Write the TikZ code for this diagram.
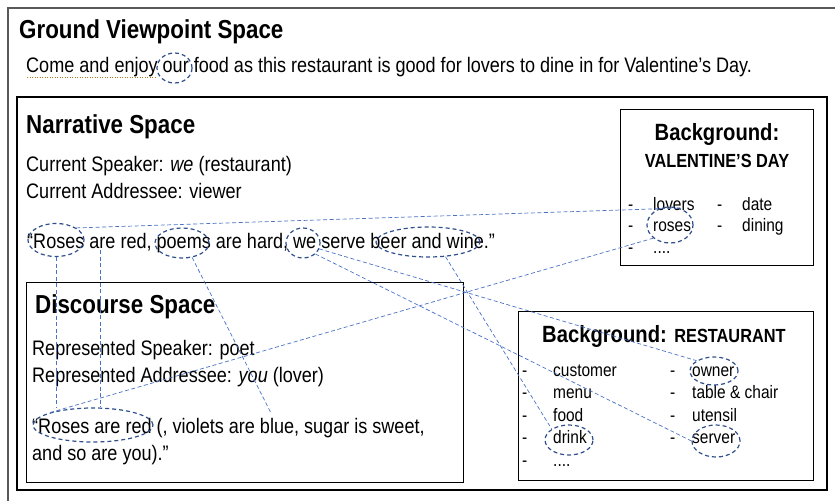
\documentclass[tikz,border=0pt]{standalone}
\usepackage{fontspec}
\setmainfont{Liberation Sans}[FakeStretch=0.86]
\usetikzlibrary{shapes.geometric}
\definecolor{ringblue}{HTML}{2F4E8C}
\definecolor{linkblue}{HTML}{4A72C4}
\definecolor{squiggle}{HTML}{B07A1E}

\begin{document}
\begin{tikzpicture}[x=1pt,y=-1pt]
\useasboundingbox (0,0) rectangle (835,501);
%%%%%%%%%%%%%%%%%%%%%%%%%%%%%%%%%%%%%%%%%%%%%%%%%%%%%%%%%%%%%%
%styles
\tikzstyle{spacetitle}=[anchor=base west,inner sep=0pt,font=\fontsize{26}{30}\selectfont\bfseries]
\tikzstyle{textline}=[anchor=base west,inner sep=0pt,font=\fontsize{21}{25}\selectfont]
\tikzstyle{bghead}=[anchor=base,inner sep=0pt,font=\fontsize{23.5}{27}\selectfont\bfseries]
\tikzstyle{bgcaps}=[anchor=base,inner sep=0pt,font=\fontsize{19}{22}\selectfont\bfseries]
\tikzstyle{listitem}=[anchor=base west,inner sep=0pt,font=\fontsize{18}{21}\selectfont]
\tikzstyle{wordring}=[ellipse,draw=ringblue,line width=1.2pt,dash pattern=on 4pt off 3pt,inner sep=0pt]
\tikzstyle{link}=[draw=linkblue,line width=0.7pt,dash pattern=on 4pt off 2.5pt]

%%%%%%%%%%%%%%%%%%%%%%%%%%%%%%%%%%%%%%%%%%%%%%%%%%%%%%%%%%%%%%
%BOXES
\draw[line width=1.5pt,color=black!65] (835,8) -- (8,8) -- (8,501);
\draw[line width=1.1pt] (17,97) rectangle (827,490);
\draw[line width=1pt] (26,282) rectangle (463,482);
\draw[line width=1pt] (620,109) rectangle (813,265);
\draw[line width=1pt] (518,311) rectangle (813,480);

%%%%%%%%%%%%%%%%%%%%%%%%%%%%%%%%%%%%%%%%%%%%%%%%%%%%%%%%%%%%%%
%ground
\node[spacetitle] (groundtitle) at (19,38) {Ground Viewpoint Space};
\node[textline] (groundtext) at (26,72) {Come and enjoy our food as this restaurant is good for lovers to dine in for Valentine’s Day.};
\draw[squiggle,line width=1.4pt,dash pattern=on 1.2pt off 1.3pt] (27,77.5) -- (155,77.5);

%narrative
\node[spacetitle] (narrtitle) at (26,133) {Narrative Space};
\node[textline] (speakerN) at (26,171) {Current Speaker: \textit{we} (restaurant)};
\node[textline] (addresseeN) at (26,198) {Current Addressee: viewer};
\node[textline] (poemN) at (27,248) {“Roses are red, poems are hard, we serve beer and wine.”};

%discourse
\node[spacetitle] (disctitle) at (35,313) {Discourse Space};
\node[textline] (speakerD) at (32,355) {Represented Speaker: poet};
\node[textline] (addresseeD) at (32,382) {Represented Addressee: \textit{you} (lover)};
\node[textline] (poemD1) at (32,433) {“Roses are red (, violets are blue, sugar is sweet,};
\node[textline] (poemD2) at (32,460) {and so are you).”};

%background valentine
\node[bghead] (valtitle) at (717,140) {Background:};
\node[bgcaps] (valcaps) at (717,167) {VALENTINE’S DAY};
\node[listitem] (dashV1) at (628,210) {-};
\node[listitem] (lovers) at (653,210) {lovers};
\node[listitem] (dashV2) at (717,210) {-};
\node[listitem] (date) at (742,210) {date};
\node[listitem] (dashV3) at (628,231) {-};
\node[listitem] (roses) at (653,231) {roses};
\node[listitem] (dashV4) at (717,231) {-};
\node[listitem] (dining) at (742,231) {dining};
\node[listitem] (dashV5) at (628,253) {-};
\node[listitem] (moreV) at (653,253) {....};

%background restaurant
\node[anchor=base west,inner sep=0pt] (resttitle) at (542,342) {\fontsize{23.5}{27}\selectfont\bfseries Background: \fontsize{19}{22}\selectfont RESTAURANT};
\node[listitem] (dashR1) at (522,376) {-};
\node[listitem] (customer) at (553,376) {customer};
\node[listitem] (dashR2) at (522,398.5) {-};
\node[listitem] (menu) at (553,398.5) {menu};
\node[listitem] (dashR3) at (522,421) {-};
\node[listitem] (food) at (553,421) {food};
\node[listitem] (dashR4) at (522,443.5) {-};
\node[listitem] (drink) at (553,443.5) {drink};
\node[listitem] (dashR5) at (522,466) {-};
\node[listitem] (moreR) at (553,466) {....};
\node[listitem] (dashR6) at (670,376) {-};
\node[listitem] (owner) at (692,376) {owner};
\node[listitem] (dashR7) at (670,398.5) {-};
\node[listitem] (tablechair) at (692,398.5) {table \& chair};
\node[listitem] (dashR8) at (670,421) {-};
\node[listitem] (utensil) at (692,421) {utensil};
\node[listitem] (dashR9) at (670,443.5) {-};
\node[listitem] (server) at (692,443.5) {server};

%%%%%%%%%%%%%%%%%%%%%%%%%%%%%%%%%%%%%%%%%%%%%%%%%%%%%%%%%%%%%%
%rings
\node[wordring,minimum width=35pt,minimum height=30pt] (ourring) at (174.5,68) {};
\node[wordring,minimum width=56pt,minimum height=33pt] (RosesN) at (56,240) {};
\node[wordring,minimum width=54pt,minimum height=30pt] (poemsN) at (182,243) {};
\node[wordring,minimum width=34pt,minimum height=30pt] (weN) at (303,243) {};
\node[wordring,minimum width=104pt,minimum height=30pt] (beerN) at (428,242) {};
\node[wordring,minimum width=46pt,minimum height=36pt] (rosesV) at (670,225) {};
\node[wordring,minimum width=120pt,minimum height=34pt] (RosesD) at (93,425) {};
\node[wordring,minimum width=48pt,minimum height=28pt] (ownerring) at (714,371) {};
\node[wordring,minimum width=48pt,minimum height=30pt] (drinkring) at (569,440) {};
\node[wordring,minimum width=48pt,minimum height=32pt] (serverring) at (716,441) {};

%free ends
\coordinate (areN) at (100,250);
\coordinate (blueD) at (271,413);

%%%%%%%%%%%%%%%%%%%%%%%%%%%%%%%%%%%%%%%%%%%%%%%%%%%%%%%%%%%%%%
%LINKS
%roses
\draw[link] (RosesN.north east) -- (rosesV.60);
\draw[link] (RosesD.north west) -- (rosesV.south west);
\draw[link] (RosesN.south) -- (RosesN.south |- RosesD.north);
\draw[link] (areN) -- (areN |- RosesD.north);
%poems
\draw[link] (poemsN.-55) -- (blueD);
%we
\draw[link] (weN.-20) -- (ownerring.north west);
\draw[link] (weN.south east) -- (serverring.west);
%beer and wine
\draw[link] (beerN.-40) -- (drinkring.north west);
\end{tikzpicture}
\end{document}
